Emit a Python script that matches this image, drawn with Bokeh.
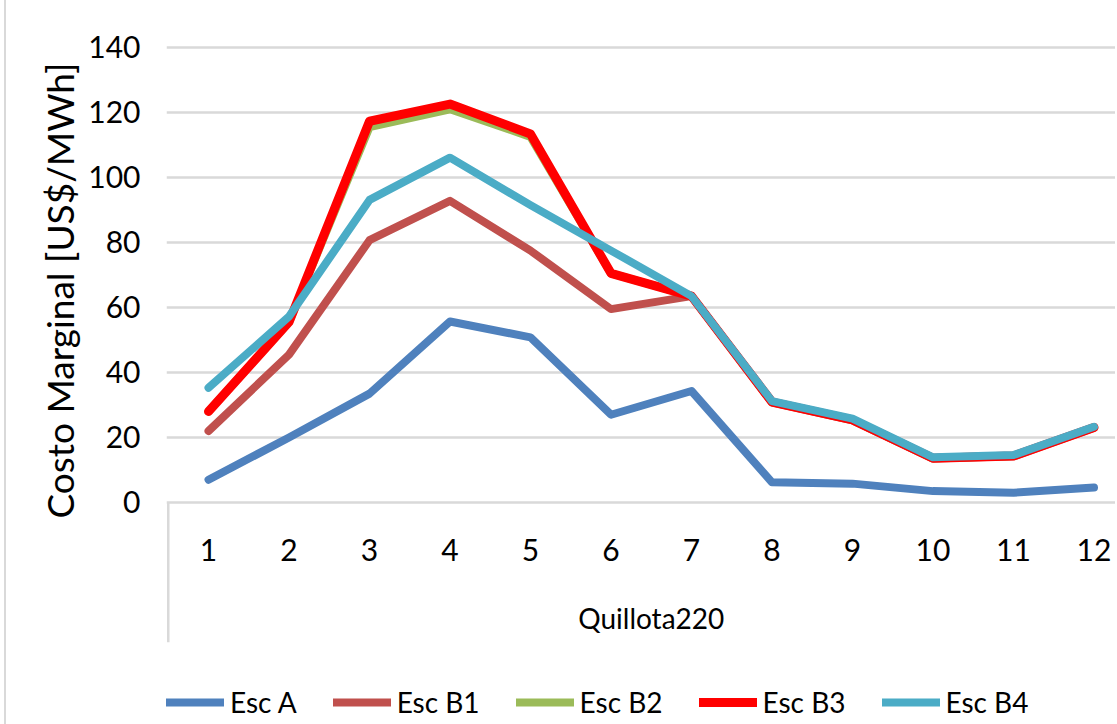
from bokeh.plotting import figure
from bokeh.models import Range1d, FixedTicker, Legend, LegendItem, Title
from bokeh.core.properties import value
from bokeh.embed import file_html
from bokeh.resources import INLINE

# ---- data ----
categories = ["1", "2", "3", "4", "5", "6", "7", "8", "9", "10", "11", "12"]
group_label = "Quillota220"
y_title = "Costo Marginal [US$/MWh]"
y_ticks = [0, 20, 40, 60, 80, 100, 120, 140]

series_names = ["Esc A", "Esc B1", "Esc B2", "Esc B3", "Esc B4"]
esc_a = [7.0, 20.0, 33.5, 55.7, 50.8, 27.0, 34.3, 6.2, 5.8, 3.5, 3.0, 4.6]
esc_b1 = [22.0, 45.5, 80.7, 92.8, 77.5, 59.5, 63.5, 30.8, 25.3, 13.5, 14.2, 23.0]
esc_b2 = [28.0, 55.5, 115.5, 121.0, 112.5, 70.5, 63.5, 30.9, 25.4, 13.6, 14.3, 23.1]
esc_b3 = [28.0, 55.5, 117.3, 122.6, 113.4, 70.5, 63.5, 30.9, 25.4, 13.6, 14.3, 23.1]
esc_b4 = [35.3, 57.2, 93.1, 106.1, 91.5, 77.5, 63.5, 31.2, 25.8, 13.9, 14.6, 23.3]
series_values = [esc_a, esc_b1, esc_b2, esc_b3, esc_b4]
series_colors = ["#4F81BD", "#C0504D", "#9BBB59", "#FF0000", "#4BACC6"]
series_widths = [8, 8, 8, 9, 8]

FONT = "Lato"
GRID = "#D9D9D9"

xs = [i + 1 for i in range(len(categories))]
n = len(categories)
cat_edge = xs[0] - 0.5          # left edge of the first category slot
tick_label_level = -14.5        # y (data units) of category labels
group_label_level = -35.4       # y (data units) of group label
separator_depth = -43.0

p = figure(width=1111, height=724, output_backend="svg", toolbar_location=None,
           x_range=Range1d(0.478, 12.292), y_range=Range1d(-68.31, 151.38),
           x_axis_location=None,
           min_border_left=160, min_border_right=0, min_border_top=10,
           min_border_bottom=0)
p.styles = {"border-left": "2px solid #D9D9D9", "margin-left": "4px"}
p.outline_line_color = None
p.background_fill_color = "white"
p.border_fill_color = "white"

# y axis
ya = p.yaxis[0]
ya.ticker = FixedTicker(ticks=y_ticks)
ya.axis_line_color = None
ya.major_tick_in = 0
ya.major_tick_out = 0
ya.minor_tick_in = 0
ya.minor_tick_out = 0
ya.major_label_standoff = 26
ya.major_label_text_font = FONT
ya.major_label_text_font_size = "30px"
ya.major_label_text_color = "#000000"

p.xgrid.grid_line_color = None
p.ygrid.grid_line_color = GRID
p.ygrid.grid_line_width = 2.5

# y title
p.add_layout(Title(text=y_title, align="left", offset=206, standoff=8,
                   text_font=FONT, text_font_size="37px", text_font_style="normal",
                   text_color="#000000"), "left")

# category axis: separator, category labels, group label
p.segment(x0=[cat_edge], y0=[0], x1=[cat_edge], y1=[separator_depth],
          line_color=GRID, line_width=2.5)
p.text(x=xs, y=[tick_label_level] * n, text=categories,
       text_align="center", text_baseline="middle",
       text_font=value(FONT), text_font_size=value("30px"), text_color="#000000")
p.text(x=[(xs[0] + xs[-1]) / 2], y=[group_label_level], text=[group_label],
       text_align="center", text_baseline="middle",
       text_font=value(FONT), text_font_size=value("28px"), text_color="#000000")

items = []
for name, vals, col, w in zip(series_names, series_values, series_colors, series_widths):
    r = p.line(xs, vals, line_color=col, line_width=w, line_cap="round", line_join="round")
    items.append(LegendItem(label=name, renderers=[r]))

legend = Legend(items=items, orientation="horizontal", location=(0, 5),
                glyph_width=58, glyph_height=30, label_standoff=6, spacing=36,
                padding=0, margin=0, border_line_color=None, background_fill_alpha=0,
                label_text_font=FONT, label_text_font_size="28px",
                label_text_color="#000000")
p.add_layout(legend)

open("out.html", "w").write(file_html(p, INLINE))
